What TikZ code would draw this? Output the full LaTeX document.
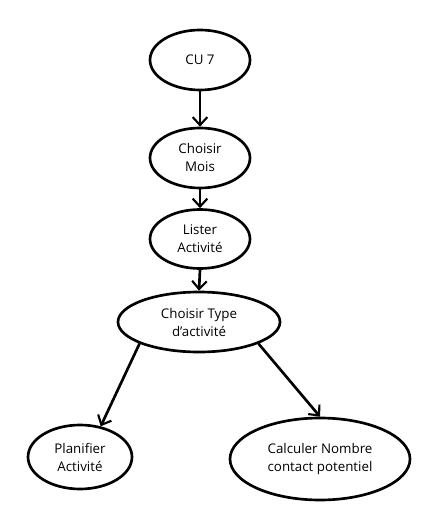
\documentclass[tikz,border=0pt]{standalone}
\usepackage{fontspec}
\setmainfont{Open Sans}
\usetikzlibrary{shapes.geometric,arrows.meta}
\begin{document}
\begin{tikzpicture}[x=0.75pt,y=-0.75pt,
  uc/.style={draw,ellipse,line width=2pt,inner sep=0pt,align=center,font=\fontsize{10}{13.5}\selectfont},
  arr/.style={line width=2pt,-{Straight Barb[length=6pt,width=11pt,line width=1.6pt]}}]
\useasboundingbox (0,0) rectangle (440,530);
\node[uc,minimum width=100*0.75pt,minimum height=60*0.75pt] (cu) at (200,60) {CU 7};
\node[uc,minimum width=100*0.75pt,minimum height=60*0.75pt] (mois) at (200,158) {Choisir\\Mois};
\node[uc,minimum width=100*0.75pt,minimum height=59*0.75pt] (lister) at (200,239) {Lister\\Activité};
\node[uc,minimum width=162*0.75pt,minimum height=60*0.75pt] (type) at (199,322) {Choisir Type\\d'activité};
\node[uc,minimum width=104*0.75pt,minimum height=64*0.75pt] (plan) at (80,457) {Planifier\\Activité};
\node[uc,minimum width=180*0.75pt,minimum height=82*0.75pt] (calc) at (320,459) {Calculer Nombre\\contact potentiel};
\draw[arr] (cu.south) -- (mois.north);
\draw[arr] (mois.south) -- (lister.north);
\draw[arr] (lister.south) -- (type.north);
\draw[arr] (type.200) -- (plan.56);
\draw[arr] (type.340) -- (calc.north);
\end{tikzpicture}
\end{document}
